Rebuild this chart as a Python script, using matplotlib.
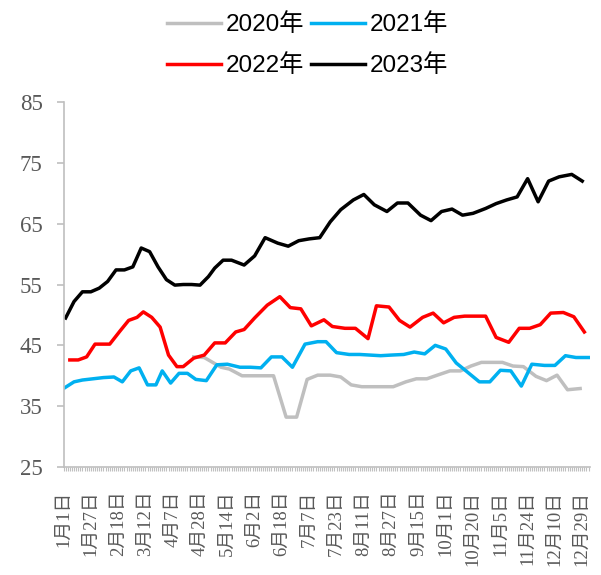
import numpy as np
import matplotlib
matplotlib.use('Agg')
import matplotlib.pyplot as plt

plt.rcParams['font.family'] = ['Liberation Serif', 'DejaVu Serif', 'Noto Sans CJK SC']

# x axis: trading-day categories, label every 13th
date_labels = ['1月1日', '1月27日', '2月18日', '3月12日', '4月7日', '4月28日', '5月14日',
               '6月2日', '6月18日', '7月7日', '7月23日', '8月11日', '8月27日', '9月15日',
               '10月1日', '10月20日', '11月5日', '11月24日', '12月10日', '12月29日']
label_pos = [13 * i for i in range(len(date_labels))]

# 2020
x_2020 = [62, 67, 75, 79, 85, 90, 95, 100, 106, 111, 116, 121, 127, 132, 137, 142, 148, 152,
          157, 163, 168, 173, 178, 184, 189, 194, 199, 204, 209, 214, 219, 225, 230, 235, 240, 246]
y_2020 = [43.1, 43.0, 41.4, 41.1, 40.0, 40.0, 40.0, 40.0, 33.2, 33.2, 39.4, 40.1, 40.1, 39.8,
          38.5, 38.2, 38.2, 38.2, 38.2, 39.0, 39.5, 39.5, 40.1, 40.8, 40.8, 41.6, 42.2, 42.2,
          42.2, 41.6, 41.5, 39.9, 39.2, 40.1, 37.7, 37.9]

# 2021
x_2021 = [0, 5, 9, 14, 19, 24, 28, 32, 36, 40, 44, 47, 51, 55, 59, 63, 68, 73, 78, 84, 89, 94,
          99, 104, 109, 115, 121, 125, 130, 136, 141, 146, 151, 156, 162, 167, 172, 177, 182,
          187, 192, 198, 203, 208, 213, 218, 223, 229, 234, 239, 244, 250]
y_2021 = [37.9, 39.0, 39.3, 39.5, 39.7, 39.8, 39.0, 40.8, 41.3, 38.5, 38.5, 40.8, 38.8, 40.4,
          40.4, 39.4, 39.2, 41.8, 41.9, 41.4, 41.4, 41.3, 43.1, 43.1, 41.4, 45.2, 45.6, 45.6,
          43.8, 43.5, 43.5, 43.4, 43.3, 43.4, 43.5, 43.9, 43.6, 45.0, 44.4, 42.1, 40.7, 39.0,
          39.0, 40.9, 40.8, 38.3, 41.9, 41.7, 41.7, 43.3, 43.0, 43.0]

# 2022
x_2022 = [3, 7, 11, 15, 19, 22, 27, 31, 35, 38, 42, 46, 50, 54, 57, 62, 67, 72, 77, 82, 86, 91,
          97, 103, 108, 113, 118, 124, 128, 134, 139, 145, 149, 155, 160, 165, 171, 176, 181,
          186, 191, 196, 201, 206, 212, 217, 222, 227, 232, 238, 243, 248]
y_2022 = [42.6, 42.6, 43.1, 45.2, 45.2, 45.2, 47.4, 49.1, 49.6, 50.5, 49.6, 48.0, 43.4, 41.5,
          41.5, 42.9, 43.4, 45.4, 45.4, 47.2, 47.6, 49.5, 51.6, 53.0, 51.2, 51.0, 48.2, 49.2,
          48.1, 47.8, 47.8, 46.1, 51.5, 51.3, 49.1, 48.0, 49.6, 50.3, 48.7, 49.6, 49.8, 49.8,
          49.8, 46.3, 45.5, 47.8, 47.8, 48.4, 50.3, 50.4, 49.7, 47.2]

# 2023
x_2023 = [1, 5, 9, 13, 17, 21, 25, 29, 33, 37, 41, 45, 49, 53, 57, 61, 65, 69, 72, 76, 80, 86,
          91, 96, 102, 107, 112, 117, 122, 127, 132, 138, 143, 148, 154, 159, 164, 170, 175,
          180, 185, 190, 195, 201, 206, 211, 216, 221, 226, 231, 236, 242, 247]
y_2023 = [49.5, 52.2, 53.8, 53.8, 54.4, 55.5, 57.4, 57.4, 57.9, 61.0, 60.4, 57.9, 55.8, 54.9,
          55.0, 55.0, 54.9, 56.3, 57.7, 59.0, 59.0, 58.2, 59.7, 62.7, 61.8, 61.3, 62.2, 62.5,
          62.7, 65.3, 67.3, 68.9, 69.8, 68.1, 67.0, 68.4, 68.4, 66.4, 65.5, 67.0, 67.4, 66.4,
          66.7, 67.5, 68.3, 68.9, 69.4, 72.4, 68.6, 72.0, 72.7, 73.1, 72.0]

y_ticks = [25, 35, 45, 55, 65, 75, 85]

fig = plt.figure(figsize=(6.01, 5.75), dpi=100)
ax = fig.add_axes([0.1057, 0.1878, 0.8760, 0.6348])

l0, = ax.plot(x_2020, y_2020, color='#BFBFBF', lw=2.5, label='2020年')
l1, = ax.plot(x_2021, y_2021, color='#00B0F0', lw=2.5, label='2021年')
l2, = ax.plot(x_2022, y_2022, color='#FF0000', lw=2.5, label='2022年')
l3, = ax.plot(x_2023, y_2023, color='#000000', lw=2.5, label='2023年')

ax.set_xlim(0, 250.7)
ax.set_ylim(25, 85)

for s in ['top', 'right']:
    ax.spines[s].set_visible(False)
for s in ['left', 'bottom']:
    ax.spines[s].set_color('#BFBFBF')
    ax.spines[s].set_linewidth(1.2)

ax.set_yticks(y_ticks)
ax.set_yticklabels([str(v) for v in y_ticks], fontsize=16.5, color='#595959')
ax.tick_params(axis='y', length=5, width=1.2, color='#BFBFBF', pad=10)

ax.set_xticks(label_pos)
ax.set_xticklabels(date_labels, rotation=90, fontsize=13.5, color='#595959',
                   va='top', ha='center')
ax.set_xticks(np.arange(0, 251), minor=True)
ax.tick_params(axis='x', which='both', length=3, width=0.8, color='#BFBFBF')
ax.tick_params(axis='x', which='major', pad=14)

# ncol=2 fills by column, so order handles to get 2020/2021 on the first row
fig.legend([l0, l2, l1, l3], ['2020年', '2022年', '2021年', '2023年'], ncol=2,
           loc='center', bbox_to_anchor=(0.512, 0.921), frameon=False,
           prop={'family': ['Liberation Sans', 'Noto Sans CJK SC'], 'size': 17.5},
           handlelength=2.2, handletextpad=0.2, columnspacing=0.3, labelspacing=0.75)

fig.savefig('out.png', dpi=100)
